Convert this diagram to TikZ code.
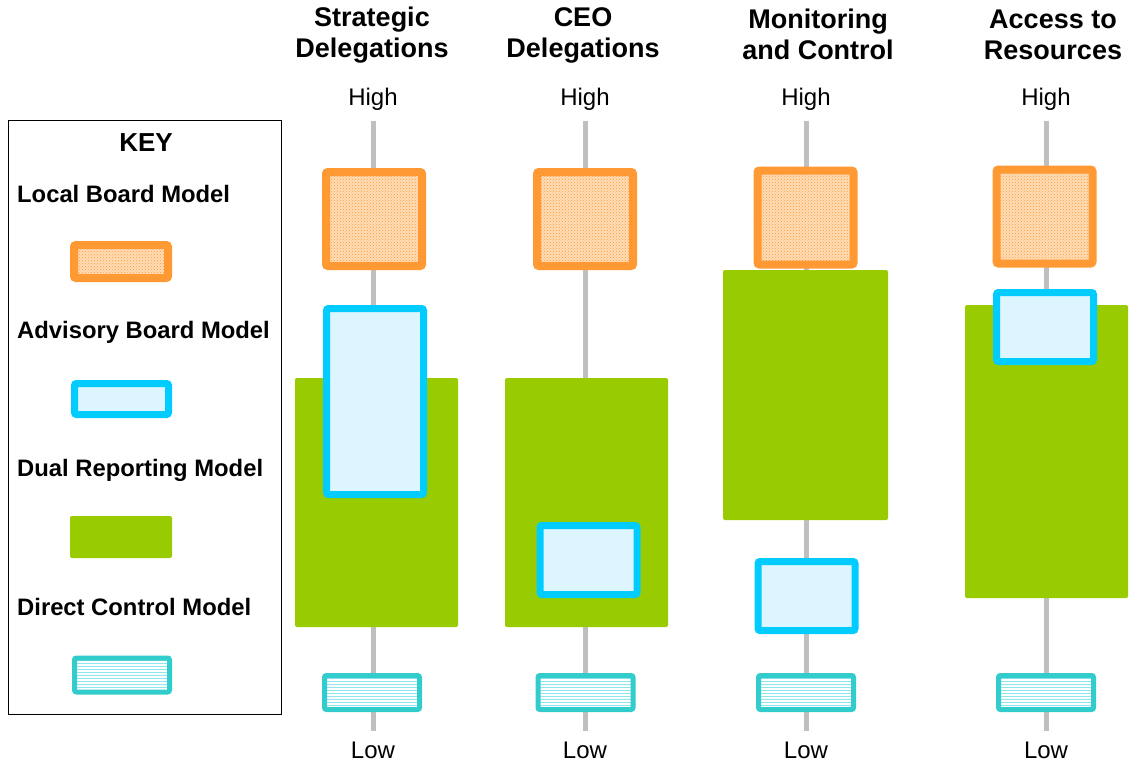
\documentclass[tikz,border=0pt]{standalone}
\usepackage{fontspec}
\setmainfont{Liberation Sans}
\usetikzlibrary{positioning,patterns}

\definecolor{localorange}{HTML}{FF9933}
\definecolor{localfill}{HTML}{FFDDB8}
\definecolor{advblue}{HTML}{00CCFF}
\definecolor{advfill}{HTML}{DDF5FF}
\definecolor{dualgreen}{HTML}{99CC00}
\definecolor{directteal}{HTML}{33CCCC}
\definecolor{directline}{HTML}{8FE6EE}
\definecolor{axisgray}{HTML}{BFBFBF}

\tikzset{
  localbox/.style={draw=localorange, line width=8pt, rounded corners=2pt, inner sep=0pt,
    preaction={fill=localfill}, pattern=crosshatch dots, pattern color=localorange,
    minimum width=96pt, minimum height=94pt},
  advbox/.style={draw=advblue, line width=7pt, rounded corners=2pt, inner sep=0pt,
    fill=advfill, minimum width=97pt, minimum height=69pt},
  dualbox/.style={fill=dualgreen, rounded corners=2pt, inner sep=0pt,
    minimum width=163pt, minimum height=249pt},
  directbox/.style={draw=directteal, line width=5pt, rounded corners=2pt, inner sep=0pt,
    preaction={fill=white}, pattern=horizontal lines, pattern color=directline,
    minimum width=95pt, minimum height=34pt},
  axisline/.style={axisgray, line width=5pt, shorten <=7pt, shorten >=7pt},
  coltitle/.style={font=\fontsize{27}{31}\selectfont\bfseries, align=center},
  scalelabel/.style={font=\fontsize{24}{28}\selectfont},
  keylabel/.style={font=\fontsize{23.8}{28}\selectfont\bfseries, anchor=west, inner sep=0pt},
}

\begin{document}
\begin{tikzpicture}[x=1pt, y=-1pt]
  \useasboundingbox (0,0) rectangle (1131,769);

  % key
  \node[draw, line width=1pt, minimum width=273pt, minimum height=594pt, inner sep=0pt] (key) at (144.5,417) {};
  \node[font=\fontsize{26}{30}\selectfont\bfseries] (keytitle) at (146,143) {KEY};
  \node[keylabel] (keylocal) at (17,194) {Local Board Model};
  \node[localbox, minimum width=94pt, minimum height=33pt] (keylocalbox) at (121,261.5) {};
  \node[keylabel] (keyadv) at (17,332) {Advisory Board Model};
  \node[advbox, minimum width=94pt, minimum height=31pt] (keyadvbox) at (121.5,399) {};
  \node[keylabel] (keydual) at (17,470) {Dual Reporting Model};
  \node[dualbox, minimum width=102pt, minimum height=42pt] (keydualbox) at (121,537) {};
  \node[keylabel] (keydirect) at (17,607) {Direct Control Model};
  \node[directbox] (keydirectbox) at (122,675) {};

  % column titles and scale
  \node[coltitle] (sdtitle) at (372,35) {Strategic\\Delegations};
  \node[coltitle] (ceotitle) at (583,35) {CEO\\Delegations};
  \node[coltitle] (montitle) at (818,34) {Monitoring\\and Control};
  \node[coltitle] (acctitle) at (1053,35) {Access to\\Resources};

  \foreach \name/\x in {sd/373, ceo/585, mon/806, acc/1046}{
    \node[scalelabel] (\name-high) at (\x,99) {High};
    \node[scalelabel] (\name-low) at (\x,750) {Low};
    \draw[axisline] (\name-high.south) -- (\name-low.north);
  }

  % dual reporting
  \node[dualbox] (sd-dual) at (376.5,502.5) {};
  \node[dualbox] (ceo-dual) at (586.5,502.5) {};
  \node[dualbox, minimum width=165pt, minimum height=250pt] (mon-dual) at (805.5,395) {};
  \node[dualbox, minimum height=293pt] (acc-dual) at (1046.5,451.5) {};

  % local board
  \node[localbox] (sd-local) at (374,219) {};
  \node[localbox] (ceo-local) at (585,219) {};
  \node[localbox] (mon-local) at (805.5,217.5) {};
  \node[localbox] (acc-local) at (1044.5,216.5) {};

  % advisory board
  \node[advbox, minimum height=186pt] (sd-adv) at (375,401.5) {};
  \node[advbox] (ceo-adv) at (588.5,560) {};
  \node[advbox] (mon-adv) at (806.5,596) {};
  \node[advbox] (acc-adv) at (1045,327) {};

  % direct control
  \node[directbox] (sd-direct) at (372,692.5) {};
  \node[directbox] (ceo-direct) at (585.5,692.5) {};
  \node[directbox] (mon-direct) at (806,692.5) {};
  \node[directbox] (acc-direct) at (1046,692.5) {};
\end{tikzpicture}
\end{document}
